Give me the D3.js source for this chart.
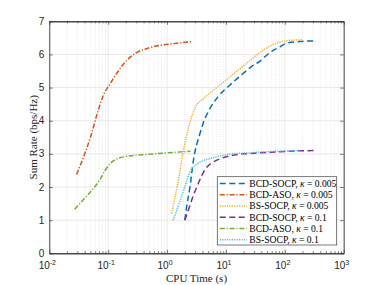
<!DOCTYPE html>
<html>
<head>
<meta charset="utf-8">
<script src="https://cdn.jsdelivr.net/npm/d3@7"></script>
<style>
  body { margin: 0; background: #fff; }
  svg { display: block; }
  .tick-label { font-family: "Liberation Sans", Arial, sans-serif; font-size: 10px; fill: #262626; }
  .axis-title { font-family: "Liberation Serif", "Times New Roman", serif; font-size: 11px; fill: #262626; }
  .legend-text { font-family: "Liberation Serif", "Times New Roman", serif; font-size: 9.6px; fill: #000; }
</style>
</head>
<body>
<div id="chart"></div>
<script>
// values (CPU time in s, sum rate in bps/Hz)
const bcdSocp005T = [2.0, 2.15, 2.45, 2.8, 3.6, 4.1, 5.4, 7.4, 11.7, 17, 27, 38, 55, 83, 107, 180, 330];
const bcdSocp005V = [1.0, 1.4, 2.0, 2.8, 3.6, 3.92, 4.38, 4.73, 5.08, 5.33, 5.63, 5.8, 6.05, 6.23, 6.34, 6.39, 6.41];

const bcdAso005T = [0.029, 0.04, 0.052, 0.066, 0.078, 0.09, 0.1, 0.12, 0.19, 0.3, 0.5, 0.8, 1.5, 2.6];
const bcdAso005V = [2.38, 3.0, 3.6, 4.25, 4.65, 4.9, 5.02, 5.25, 5.75, 6.05, 6.2, 6.28, 6.34, 6.39];

const bsSocp005T = [1.2, 1.55, 1.9, 2.4, 3.0, 4.1, 6.5, 9, 13, 22, 38, 60, 85, 130, 200];
const bsSocp005V = [1.2, 2.2, 3.1, 3.9, 4.4, 4.66, 4.96, 5.16, 5.39, 5.72, 6.06, 6.28, 6.38, 6.43, 6.44];

const bcdSocp01T = [2.0, 2.4, 2.8, 3.2, 3.9, 4.5, 5.7, 8.5, 12.5, 20, 30, 56, 160, 330];
const bcdSocp01V = [1.0, 1.4, 1.75, 2.0, 2.35, 2.55, 2.72, 2.87, 2.95, 3.0, 3.02, 3.05, 3.09, 3.1];

const bcdAso01T = [0.027, 0.038, 0.05, 0.06, 0.075, 0.09, 0.11, 0.13, 0.2, 0.5, 1.0, 2.5];
const bcdAso01V = [1.33, 1.62, 1.85, 2.02, 2.27, 2.52, 2.72, 2.82, 2.92, 2.99, 3.03, 3.08];

const bsSocp01T = [1.27, 1.6, 2.0, 2.45, 3.4, 5.7, 12.5, 25, 56, 130, 180];
const bsSocp01V = [1.0, 1.5, 2.0, 2.46, 2.72, 2.87, 3.0, 3.03, 3.07, 3.09, 3.1];

const seriesNames = ["BCD-SOCP", "BCD-ASO", "BS-SOCP", "BCD-SOCP", "BCD-ASO", "BS-SOCP"];
const seriesKappa = ["0.005", "0.005", "0.005", "0.1", "0.1", "0.1"];
const xTickExp = [-2, -1, 0, 1, 2, 3];
const yTicks = [0, 1, 2, 3, 4, 5, 6, 7];

const W = 379, H = 285;
const margin = {left: 49.3, top: 21.3, right: W - 343.7, bottom: H - 253.3};
const pw = W - margin.left - margin.right;
const ph = H - margin.top - margin.bottom;

const colors = ["#0072BD", "#D95319", "#EDB120", "#7E2F8E", "#77AC30", "#4DBEEE"];
const dashes = ["6,3.5", "5,1.8,1.2,1.8", "1.2,1.2", "6,3.5", "5,1.8,1.2,1.8", "1.2,1.2"];

const series = [
  [bcdSocp005T, bcdSocp005V], [bcdAso005T, bcdAso005V], [bsSocp005T, bsSocp005V],
  [bcdSocp01T, bcdSocp01V], [bcdAso01T, bcdAso01V], [bsSocp01T, bsSocp01V]
].map(([t, v], i) => ({
  name: seriesNames[i], kappa: seriesKappa[i], color: colors[i], dash: dashes[i],
  pts: t.map((d, j) => ({t: d, v: v[j]}))
}));

const x = d3.scaleLog().domain([1e-2, 1e3]).range([0, pw]);
const y = d3.scaleLinear().domain([0, 7]).range([ph, 0]);

const svg = d3.select("#chart").append("svg").attr("width", W).attr("height", H);
const g = svg.append("g").attr("transform", `translate(${margin.left},${margin.top})`);

// minor ticks positions (2..9 per decade)
const minors = [];
for (let e = -2; e < 3; e++) for (let k = 2; k <= 9; k++) minors.push(k * Math.pow(10, e));
const majors = xTickExp.map(e => Math.pow(10, e));

// grid
const grid = g.append("g");
grid.selectAll(".gminor").data(minors).enter().append("line")
  .attr("x1", d => x(d)).attr("x2", d => x(d)).attr("y1", 0).attr("y2", ph)
  .attr("stroke", "#d9d9d9").attr("stroke-width", 0.6).attr("stroke-dasharray", "1,1.5");
grid.selectAll(".gx").data(majors).enter().append("line")
  .attr("x1", d => x(d)).attr("x2", d => x(d)).attr("y1", 0).attr("y2", ph)
  .attr("stroke", "#e3e3e3").attr("stroke-width", 0.8);
grid.selectAll(".gy").data(yTicks).enter().append("line")
  .attr("x1", 0).attr("x2", pw).attr("y1", d => y(d)).attr("y2", d => y(d))
  .attr("stroke", "#e3e3e3").attr("stroke-width", 0.8);

// lines
const line = d3.line().x(d => x(d.t)).y(d => y(d.v)).curve(d3.curveMonotoneX);
g.append("g").selectAll("path").data(series).enter().append("path")
  .attr("d", d => line(d.pts))
  .attr("fill", "none")
  .attr("stroke", d => d.color)
  .attr("stroke-width", 1.5)
  .attr("stroke-dasharray", d => d.dash);

// axes box with inward ticks
const axisColor = "#262626";
function styleAxis(sel) {
  sel.select(".domain").attr("stroke", axisColor).attr("stroke-width", 0.8);
  sel.selectAll(".tick line").attr("stroke", axisColor).attr("stroke-width", 0.6);
  sel.selectAll(".tick text").remove();
}
g.append("g").attr("transform", `translate(0,${ph})`)
  .call(d3.axisBottom(x).tickValues(majors).tickSizeInner(-3.5).tickSizeOuter(0)).call(styleAxis);
g.append("g")
  .call(d3.axisTop(x).tickValues(majors).tickSizeInner(-3.5).tickSizeOuter(0)).call(styleAxis);
g.append("g").attr("transform", `translate(0,${ph})`)
  .call(d3.axisBottom(x).tickValues(minors).tickSizeInner(-2).tickSizeOuter(0)).call(styleAxis);
g.append("g")
  .call(d3.axisTop(x).tickValues(minors).tickSizeInner(-2).tickSizeOuter(0)).call(styleAxis);
g.append("g")
  .call(d3.axisLeft(y).tickValues(yTicks).tickSizeInner(-3.5).tickSizeOuter(0)).call(styleAxis);
g.append("g").attr("transform", `translate(${pw},0)`)
  .call(d3.axisRight(y).tickValues(yTicks).tickSizeInner(-3.5).tickSizeOuter(0)).call(styleAxis);

// tick labels
g.selectAll(".ylab").data(yTicks).enter().append("text")
  .attr("class", "tick-label")
  .attr("x", -5).attr("y", d => y(d) + 3.6)
  .attr("text-anchor", "end").text(d => d);

const xl = g.selectAll(".xlab").data(xTickExp).enter().append("text")
  .attr("class", "tick-label")
  .attr("x", d => x(Math.pow(10, d)) - 2).attr("y", ph + 16)
  .attr("text-anchor", "middle");
xl.append("tspan").text("10");
xl.append("tspan").attr("dy", -4.5).style("font-size", "7px").text(d => d < 0 ? "-" + (-d) : d);

// axis titles
svg.append("text").attr("class", "axis-title")
  .attr("x", margin.left + pw / 2).attr("y", 282)
  .attr("text-anchor", "middle").text("CPU Time (s)");
svg.append("text").attr("class", "axis-title")
  .attr("transform", `translate(36.5,${margin.top + ph / 2}) rotate(-90)`)
  .attr("text-anchor", "middle").text("Sum Rate (bps/Hz)");

// legend
const lg = svg.append("g").attr("transform", "translate(217.3,176.7)");
lg.append("rect").attr("width", 119.4).attr("height", 68.3)
  .attr("fill", "#fff").attr("stroke", "#444").attr("stroke-width", 0.7);
const rows = lg.selectAll(".row").data(series).enter().append("g")
  .attr("transform", (d, i) => `translate(0,${6.8 + i * 11.25})`);
rows.append("line").attr("x1", 2.5).attr("x2", 29.5).attr("y1", 0).attr("y2", 0)
  .attr("stroke", d => d.color).attr("stroke-width", 1.5).attr("stroke-dasharray", d => d.dash);
const lt = rows.append("text").attr("class", "legend-text").attr("x", 32).attr("y", 3.3);
lt.append("tspan").text(d => d.name + ", ");
lt.append("tspan").style("font-style", "italic").text("κ");
lt.append("tspan").text(d => " = " + d.kappa);
</script>
</body>
</html>
